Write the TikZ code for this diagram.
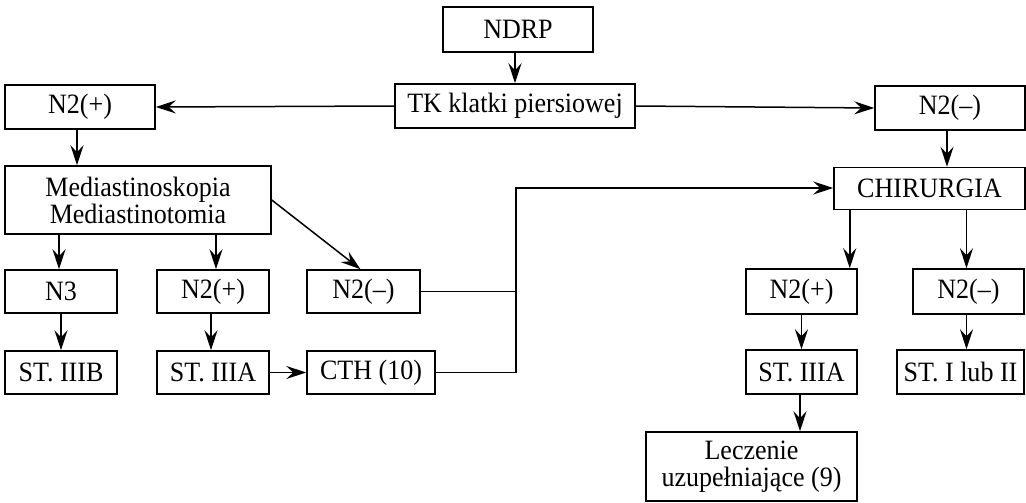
\documentclass[tikz,border=0pt]{standalone}
\usepackage{fontspec}
\setmainfont{Liberation Serif}[FakeStretch=0.93]
\usetikzlibrary{arrows.meta}
\begin{document}
\begin{tikzpicture}[x=1pt,y=-1pt,
  box/.style={draw, line width=1.5pt, align=center, inner sep=2pt,
    font=\fontsize{28}{27}\selectfont, minimum height=44pt},
  arr/.style={line width=1.5pt, -{Stealth[length=20pt,width=13pt,inset=7pt]}},
  ln/.style={line width=1.5pt}]
\useasboundingbox (0,0) rectangle (1026,503);
\node[box, minimum width=150pt, minimum height=45pt] (ndrp) at (518,29.5) {NDRP};
\node[box, minimum width=240pt] (tk) at (515,106) {TK klatki piersiowej};
\node[box, minimum width=150pt] (n2pl) at (80,107) {N2(+)};
\node[box, minimum width=150pt] (n2mr) at (950,108) {N2(--)};
\node[box, minimum width=266pt, minimum height=68pt] (med) at (138,200) {Mediastinoskopia\\Mediastinotomia};
\node[box, minimum width=191pt, minimum height=42pt] (chir) at (929.5,188.5) {CHIRURGIA};
\node[box, minimum width=112pt, minimum height=43pt] (n3) at (61,291.5) {N3};
\node[box, minimum width=112pt, minimum height=43pt] (n2pm) at (213,291.5) {N2(+)};
\node[box, minimum width=113pt, minimum height=43pt] (n2mm) at (363.5,291.5) {N2(--)};
\node[box, minimum width=112pt, minimum height=43pt] (st3b) at (61,372.5) {ST. IIIB};
\node[box, minimum width=112pt, minimum height=43pt] (st3am) at (213,372.5) {ST. IIIA};
\node[box, minimum width=128pt, minimum height=43pt] (cth) at (371,372.5) {CTH (10)};
\node[box, minimum width=111pt, minimum height=45pt] (n2pr) at (801.5,291.5) {N2(+)};
\node[box, minimum width=111pt, minimum height=45pt] (n2mr2) at (968.5,291.5) {N2(--)};
\node[box, minimum width=111pt, minimum height=44pt] (st3ar) at (801.5,372) {ST. IIIA};
\node[box, minimum width=127pt, minimum height=44pt] (st12) at (960.5,372) {ST. I lub II};
\node[box, minimum width=211pt, minimum height=69pt] (lecz) at (751.5,466.5) {Leczenie\\uzupełniające (9)};
\coordinate (jtop) at (516,188);
% connectors
\draw[arr] (tk.north |- ndrp.south) -- (tk.north);
\draw[arr] (tk.west) -- (n2pl.east);
\draw[arr] (tk.east) -- (n2mr.west);
\draw[arr] ([xshift=-3pt]n2pl.south) -- ([xshift=-3pt]n2pl.south |- med.north);
\draw[arr] ([xshift=-3pt]n2mr.south) -- ([xshift=-3pt]n2mr.south |- chir.north);
\draw[arr] ([xshift=-2pt]n3.north |- med.south) -- ([xshift=-2pt]n3.north);
\draw[arr] ([xshift=3pt]n2pm.north |- med.south) -- ([xshift=3pt]n2pm.north);
\draw[arr] (med.east) -- ([xshift=-3pt]n2mm.north);
\draw[arr] (n3.south) -- (st3b.north);
\draw[arr] ([xshift=-2pt]n2pm.south) -- ([xshift=-2pt]st3am.north);
\draw[arr] (st3am.east) -- (cth.west);
\draw[ln] (n2mm.east) -- (n2mm.east -| jtop);
\draw[arr] (cth.east) -| (jtop) -- (jtop -| chir.west);
\draw[arr] ([xshift=-8pt]n2pr.north east |- chir.south) -- ([xshift=-8pt]n2pr.north east);
\draw[arr] ([xshift=-2pt]n2mr2.north |- chir.south) -- ([xshift=-2pt]n2mr2.north);
\draw[arr] (n2pr.south) -- (st3ar.north);
\draw[arr] ([xshift=-2pt]n2mr2.south) -- ([xshift=-2pt]n2mr2.south |- st12.north);
\draw[arr] ([xshift=-1.5pt]st3ar.south) -- ([xshift=-1.5pt]st3ar.south |- lecz.north);
\end{tikzpicture}
\end{document}
